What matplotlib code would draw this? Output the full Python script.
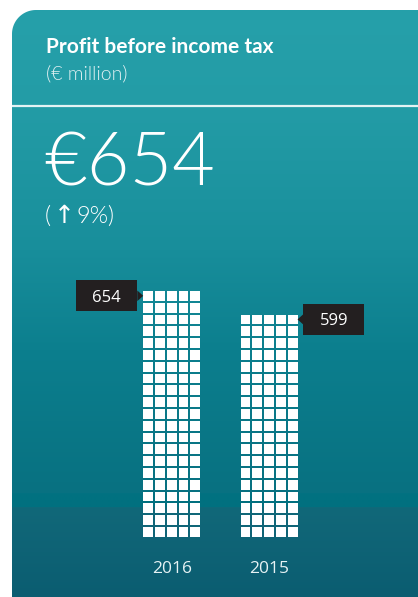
import numpy as np
import matplotlib
matplotlib.use("Agg")
import matplotlib.pyplot as plt
from matplotlib import font_manager as fm
from matplotlib.path import Path
from matplotlib.patches import PathPatch, Rectangle, Polygon

# data
years = ["2016", "2015"]
profit = [654, 599]          # € million
per_row = 31.25              # € million shown by one row of five squares
title = "Profit before income tax"
unit = "(€ million)"
headline = "€654"
change_pct = "9%"


def font_file(fname, family="Lato", weight="normal"):
    # pick a font file by name, fall back to family/weight
    for f in fm.fontManager.ttflist:
        if f.fname.endswith(fname):
            return fm.FontProperties(fname=f.fname)
    return fm.FontProperties(family=family, weight=weight)


lato_light = font_file("Lato-Light.ttf", weight="light")
lato_bold = font_file("Lato-Bold.ttf", weight="bold")

W, H = 418, 597
fig = plt.figure(figsize=(W / 100, H / 100), dpi=100)
fig.patch.set_facecolor("white")

# full-figure axes in pixel units for the card background and header text
bg = fig.add_axes([0, 0, 1, 1])
bg.set_xlim(0, W)
bg.set_ylim(H, 0)
bg.axis("off")

# vertical gradient of the card
stop_y = [10, 110, 250, 350, 493, 494, 507, 508, 597]
stop_c = np.array([(38, 160, 170), (35, 156, 166), (24, 142, 155), (12, 127, 142),
                   (8, 113, 129), (1, 114, 129), (1, 112, 127), (17, 104, 121),
                   (11, 93, 113)]) / 255
ys = np.arange(10, H + 1)
grad = np.stack([np.interp(ys, stop_y, stop_c[:, k]) for k in range(3)], axis=-1)
grad = grad[:, None, :]
img = bg.imshow(grad, extent=(12, W, H, 10), aspect="auto", interpolation="bilinear")

# card outline with rounded top-left corner
r = 24
t = np.linspace(np.pi, 1.5 * np.pi, 30)
arc = np.column_stack([12 + r + r * np.cos(t), 10 + r + r * np.sin(t)])
verts = np.vstack([[W, H], [12, H], arc, [W, 10], [W, H]])
clip = PathPatch(Path(verts, closed=True), transform=bg.transData, facecolor="none", edgecolor="none")
bg.add_patch(clip)
img.set_clip_path(clip)

bg.plot([12, W], [106, 106], color="#e4f3f4", lw=1.6, solid_capstyle="butt")

bg.text(46, 53, title, color="white", fontsize=15, fontproperties=lato_bold, va="baseline")
bg.text(46, 79, unit, color="#e2f1f3", fontproperties=lato_light, fontsize=14, va="baseline")
bg.text(44, 185, headline, color="white", fontproperties=lato_light, fontsize=53, va="baseline")
# the up arrow is not in Lato, so it is drawn in DejaVu Sans between light parts
bg.text(45, 223, "(", color="white", fontproperties=lato_light, fontsize=17, va="baseline")
bg.text(54, 223, "↑", color="white", family="DejaVu Sans", fontsize=18, va="baseline")
bg.text(77, 223, change_pct + ")", color="white", fontproperties=lato_light, fontsize=17, va="baseline")

# waffle-style columns: x and y units are one cell pitch (11.8 px)
p = 11.8
left_px, bottom_px, w_px, h_px = 30, H - 536.7, 388, 300
ax = fig.add_axes([left_px / W, bottom_px / H, w_px / W, h_px / H])
ax.set_facecolor("none")
x0 = -(171.7 - left_px) / p
ax.set_xlim(x0, x0 + w_px / p)
ax.set_ylim(0, h_px / p)

gap = 8.25
cell = 0.83
centers = np.arange(len(years)) * gap
cols = np.arange(5) - 2
for c, v in zip(centers, profit):
    rows = int(round(v / per_row))
    for rr in range(rows):
        ax.bar(c + cols, cell, width=cell, bottom=rr, color="white", linewidth=0)

# value labels with pointer
box_w, box_h, notch, half = 61 / p, 31 / p, 0.5, 0.45
sides = ["left", "right"]
for c, v, side in zip(centers, profit, sides):
    rows = int(round(v / per_row))
    ty = rows - 1 + cell / 2
    if side == "left":
        tx = c - 2 - cell / 2
        bx = tx - notch - box_w
        tri = [(tx - notch, ty - half), (tx, ty), (tx - notch, ty + half)]
    else:
        tx = c + 2 + cell / 2
        bx = tx + notch
        tri = [(tx + notch, ty - half), (tx, ty), (tx + notch, ty + half)]
    ax.add_patch(Rectangle((bx, ty - box_h / 2), box_w, box_h, facecolor="#231f20",
                           edgecolor="none", clip_on=False))
    ax.add_patch(Polygon(tri, closed=True, facecolor="#231f20", edgecolor="none", clip_on=False))
    ax.text(bx + box_w / 2, ty, str(v), color="white", fontsize=12, family="Open Sans",
            ha="center", va="center_baseline")

ax.set_xticks(centers)
ax.set_xticklabels(years, color="#e6f2f4", fontsize=12.5, family="Open Sans")
ax.tick_params(axis="x", length=0, pad=17.5)
ax.set_yticks([])
for s in ax.spines.values():
    s.set_visible(False)

fig.savefig("out.png", dpi=100)
